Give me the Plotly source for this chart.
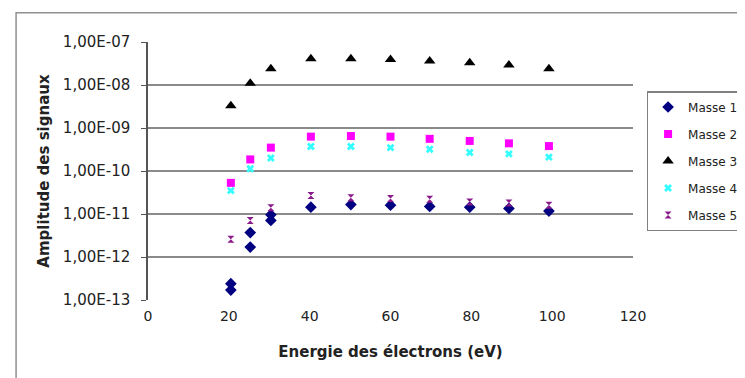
import plotly.graph_objects as go

# ---- data ----
energies = [20.5, 25.3, 30.4, 40.3, 50.2, 60.0, 69.7, 79.6, 89.3, 99.2]
energies_m1 = [20.5, 20.5, 25.3, 25.3, 30.4, 30.4, 40.3, 50.2, 60.0, 69.7, 79.6, 89.3, 99.2]
masse1 = [2.4e-13, 1.7e-13, 3.7e-12, 1.7e-12, 9.6e-12, 7.1e-12, 1.44e-11, 1.66e-11, 1.6e-11, 1.5e-11, 1.44e-11, 1.35e-11, 1.17e-11]
masse2 = [5.3e-11, 1.86e-10, 3.5e-10, 6.3e-10, 6.5e-10, 6.3e-10, 5.6e-10, 5.0e-10, 4.4e-10, 3.8e-10]
masse3 = [3.3e-9, 1.1e-8, 2.4e-8, 4.1e-8, 4.1e-8, 3.9e-8, 3.6e-8, 3.3e-8, 2.9e-8, 2.4e-8]
masse4 = [3.5e-11, 1.13e-10, 2.0e-10, 3.7e-10, 3.7e-10, 3.5e-10, 3.2e-10, 2.7e-10, 2.5e-10, 2.1e-10]
masse5 = [2.6e-12, 7.1e-12, 1.4e-11, 2.7e-11, 2.4e-11, 2.3e-11, 2.2e-11, 1.9e-11, 1.8e-11, 1.6e-11]

y_tickvals = [1e-13, 1e-12, 1e-11, 1e-10, 1e-9, 1e-8, 1e-7]
y_ticktext = ["1,00E-13", "1,00E-12", "1,00E-11", "1,00E-10", "1,00E-09", "1,00E-08", "1,00E-07"]
x_tickvals = [0, 20, 40, 60, 80, 100, 120]

FONT = "DejaVu Sans"
TXT = "#222222"

fig = go.Figure()
series = [
    ("Masse 1", energies_m1, masse1, dict(symbol="diamond", size=9, color="#000080")),
    ("Masse 2", energies, masse2, dict(symbol="square", size=8, color="#FF00FF")),
    ("Masse 3", energies, masse3, dict(symbol="triangle-up", size=10, color="#000000")),
    ("Masse 4", energies, masse4, dict(symbol="x", size=7, color="#33FFFF")),
    ("Masse 5", energies, masse5, dict(symbol="hourglass", size=7, color="#8B1A8B")),
]
for name, xs, ys, mk in series:
    fig.add_trace(go.Scatter(x=xs, y=ys, mode="markers", name=name, marker=mk,
                             legendgroup=name))

fig.update_layout(
    width=745, height=378,
    margin=dict(l=140, r=120, t=34, b=86, autoexpand=False),
    paper_bgcolor="white", plot_bgcolor="white",
    font=dict(family=FONT, size=14, color=TXT),
    xaxis=dict(range=[0, 120], tickvals=x_tickvals, showgrid=False, zeroline=False,
               showline=False, ticks="", ticklabelstandoff=6, tickfont=dict(size=14),
               title=dict(text="<b>Energie des électrons (eV)</b>", font=dict(size=15, color=TXT), standoff=23)),
    xaxis2=dict(range=[0, 120], overlaying="x", side="top", tickvals=[20, 40, 60, 80, 100],
                ticks="inside", ticklen=4, tickcolor="#555555", showticklabels=False,
                showgrid=False, zeroline=False, showline=False),
    yaxis=dict(type="log", range=[-13, -7], tickvals=y_tickvals, ticktext=y_ticktext,
               showgrid=True, gridcolor="#8a8a8a", gridwidth=1.5, zeroline=False,
               showline=True, linecolor="#555555", linewidth=1.5,
               ticks="outside", ticklen=5, tickcolor="#555555", ticklabelstandoff=8,
               tickfont=dict(size=15),
               title=dict(text="<b>Amplitude des signaux</b>", font=dict(size=15, color=TXT), standoff=10)),
    legend=dict(x=1.028, y=0.81, xanchor="left", yanchor="top",
                bordercolor="#808080", borderwidth=1.5, bgcolor="white",
                font=dict(size=12, color=TXT), traceorder="grouped",
                tracegroupgap=8, itemsizing="trace", itemwidth=30),
    showlegend=True,
)
# outer chart border
fig.add_shape(type="rect", xref="paper", yref="paper", x0=-0.272, x1=1.35, y0=-0.4, y1=1.113,
              line=dict(color="#909090", width=1.5), fillcolor="rgba(0,0,0,0)", layer="below")

fig.write_html("out.html")
